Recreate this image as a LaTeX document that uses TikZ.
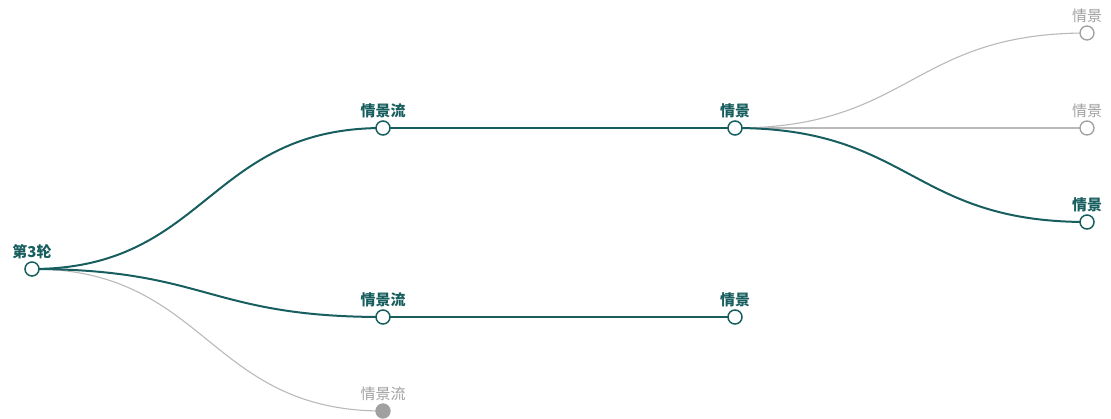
\documentclass[tikz,border=0pt]{standalone}
\usepackage{fontspec}
\usetikzlibrary{calc,positioning}
\newfontfamily\cjk{Noto Sans CJK SC}
\definecolor{teal}{RGB}{24,94,94}
\definecolor{grayline}{RGB}{185,185,185}
\definecolor{graytext}{RGB}{160,160,160}
\tikzset{
  on/.style={circle,draw=teal,fill=white,line width=1.5pt,minimum size=14pt,inner sep=0pt},
  off/.style={circle,draw=graytext,fill=white,line width=1.3pt,minimum size=14pt,inner sep=0pt},
  offfull/.style={circle,draw=graytext,fill=graytext,line width=1.3pt,minimum size=14pt,inner sep=0pt},
  onlabel/.style={font=\cjk\fontsize{15}{15}\selectfont\bfseries,text=teal},
  offlabel/.style={font=\cjk\fontsize{15}{15}\selectfont,text=graytext},
  onedge/.style={draw=teal,line width=2pt},
  offedge/.style={draw=grayline,line width=1.1pt},
}
\newcommand{\branch}[3]{%
  \path[#1] (#2) .. controls ($(#2)!0.5!(#2 -| #3)$) and ($(#3)!0.5!(#3 -| #2)$) .. (#3);}
\begin{document}
\begin{tikzpicture}[x=1pt,y=-1pt]
\useasboundingbox (0,0) rectangle (1111,418);

% tree points
\coordinate (r) at (32,269);
\coordinate (a) at (383,128);
\coordinate (b) at (383,317);
\coordinate (c) at (383,411);
\coordinate (a1) at (735,128);
\coordinate (b1) at (735,317);
\coordinate (a11) at (1087,33);
\coordinate (a12) at (1087,128);
\coordinate (a13) at (1087,222);

% connectors
\branch{offedge}{r}{c}
\branch{onedge}{r}{a}
\branch{onedge}{r}{b}
\branch{onedge}{a}{a1}
\branch{onedge}{b}{b1}
\branch{offedge}{a1}{a11}
\branch{offedge}{a1}{a12}
\branch{onedge}{a1}{a13}

% nodes
\node[on] (root) at (r) {};
\node[on] (flowa) at (a) {};
\node[on] (flowb) at (b) {};
\node[offfull] (flowc) at (c) {};
\node[on] (scenea) at (a1) {};
\node[on] (sceneb) at (b1) {};
\node[off] (scenea1) at (a11) {};
\node[off] (scenea2) at (a12) {};
\node[on] (scenea3) at (a13) {};

% labels
\node[onlabel,above=-1pt of root] {第3轮};
\node[onlabel,above=-1pt of flowa] {情景流};
\node[onlabel,above=-1pt of flowb] {情景流};
\node[offlabel,above=-1pt of flowc] {情景流};
\node[onlabel,above=-1pt of scenea] {情景};
\node[onlabel,above=-1pt of sceneb] {情景};
\node[offlabel,above=-1pt of scenea1] {情景};
\node[offlabel,above=-1pt of scenea2] {情景};
\node[onlabel,above=-1pt of scenea3] {情景};
\end{tikzpicture}
\end{document}
